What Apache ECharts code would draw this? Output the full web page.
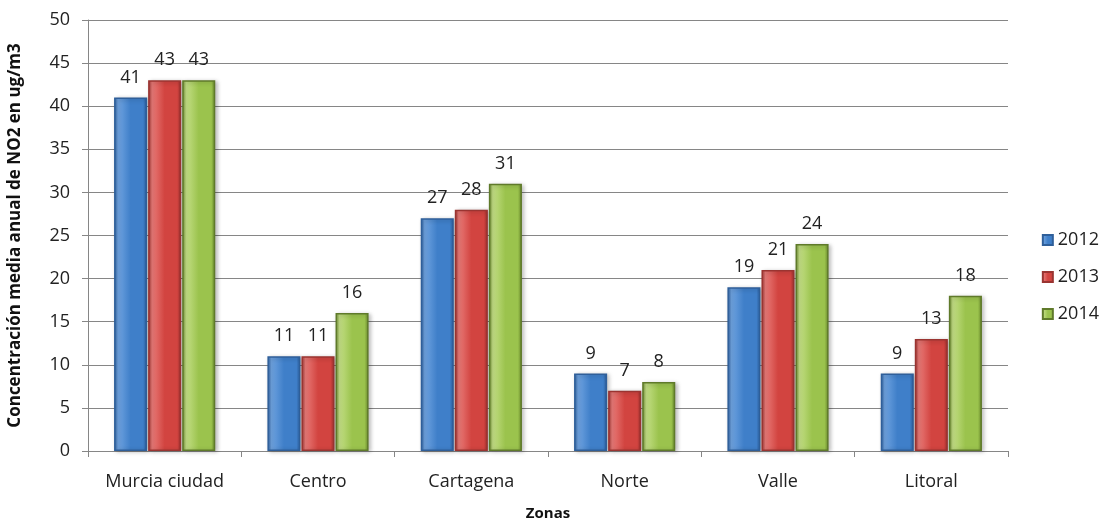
<!DOCTYPE html>
<html><head><meta charset="utf-8">
<script src="https://cdn.jsdelivr.net/npm/echarts@6/dist/echarts.min.js"></script>
<style>html,body{margin:0;padding:0;background:#fff}#c{width:1110px;height:521px}</style>
</head><body><div id="c"></div>
<script>
const categories = ['Murcia ciudad','Centro','Cartagena','Norte','Valle','Litoral'];
const s2012 = [41, 11, 27, 9, 19, 9];
const s2013 = [43, 11, 28, 7, 21, 13];
const s2014 = [43, 16, 31, 8, 24, 18];
const yTicks = {min: 0, max: 50, interval: 5};

function grad(dark, mid, light) {
  return new echarts.graphic.LinearGradient(0, 0, 1, 0, [
    {offset: 0, color: dark},
    {offset: 0.12, color: light},
    {offset: 0.5, color: mid},
    {offset: 0.88, color: mid},
    {offset: 1, color: dark}
  ]);
}
const F = 'Open Sans, sans-serif';
function mk(name, data, dark, mid, light, border) {
  return {
    name, type: 'bar', data,
    barGap: '3%', barCategoryGap: '34%',
    itemStyle: {color: grad(dark, mid, light), borderColor: border, borderWidth: 1.5,
      shadowColor: 'rgba(0,0,0,0.25)', shadowBlur: 4, shadowOffsetX: 2, shadowOffsetY: 1},
    label: {show: true, position: 'top', distance: 11, color: '#222', fontSize: 18, fontFamily: F}
  };
}
const chart = echarts.init(document.getElementById('c'));
chart.setOption({
  animation: false,
  grid: {left: 88, right: 102, top: 20, bottom: 70, outerBoundsMode: 'none', containLabel: false},
  legend: {
    orient: 'vertical', right: 6, top: 226, itemGap: 19,
    itemWidth: 10, itemHeight: 10, icon: 'rect',
    textStyle: {fontSize: 18, color: '#222', fontFamily: F},
    data: ['2012','2013','2014']
  },
  xAxis: {
    type: 'category', data: categories,
    name: 'Zonas', nameLocation: 'middle', nameGap: 55,
    nameTextStyle: {fontWeight: 'bold', fontSize: 15, color: '#111', fontFamily: F},
    axisLine: {lineStyle: {color: '#868686'}},
    axisTick: {show: true, length: 6, lineStyle: {color: '#868686'}},
    axisLabel: {fontSize: 18, color: '#222', margin: 22, fontFamily: F, interval: 0, hideOverlap: false}
  },
  yAxis: {
    type: 'value', min: yTicks.min, max: yTicks.max, interval: yTicks.interval,
    name: 'Concentración media anual de NO2 en ug/m3', nameLocation: 'middle', nameGap: 64,
    nameTextStyle: {fontWeight: 'bold', fontSize: 17, color: '#111', fontFamily: F},
    axisLine: {show: true, lineStyle: {color: '#868686'}},
    axisTick: {show: true, length: 6, inside: false, lineStyle: {color: '#868686'}},
    axisLabel: {fontSize: 18, color: '#222', margin: 18, fontFamily: F},
    splitLine: {lineStyle: {color: '#868686', width: 1}}
  },
  series: [
    mk('2012', s2012, '#2a5c99', '#3f7fc9', '#6fa3e0', '#2f5f9a'),
    mk('2013', s2013, '#9a2f2d', '#d24440', '#e87a77', '#9a3431'),
    mk('2014', s2014, '#6a8a2c', '#9bc34d', '#c3de85', '#5f7a2a')
  ]
});
</script></body></html>
